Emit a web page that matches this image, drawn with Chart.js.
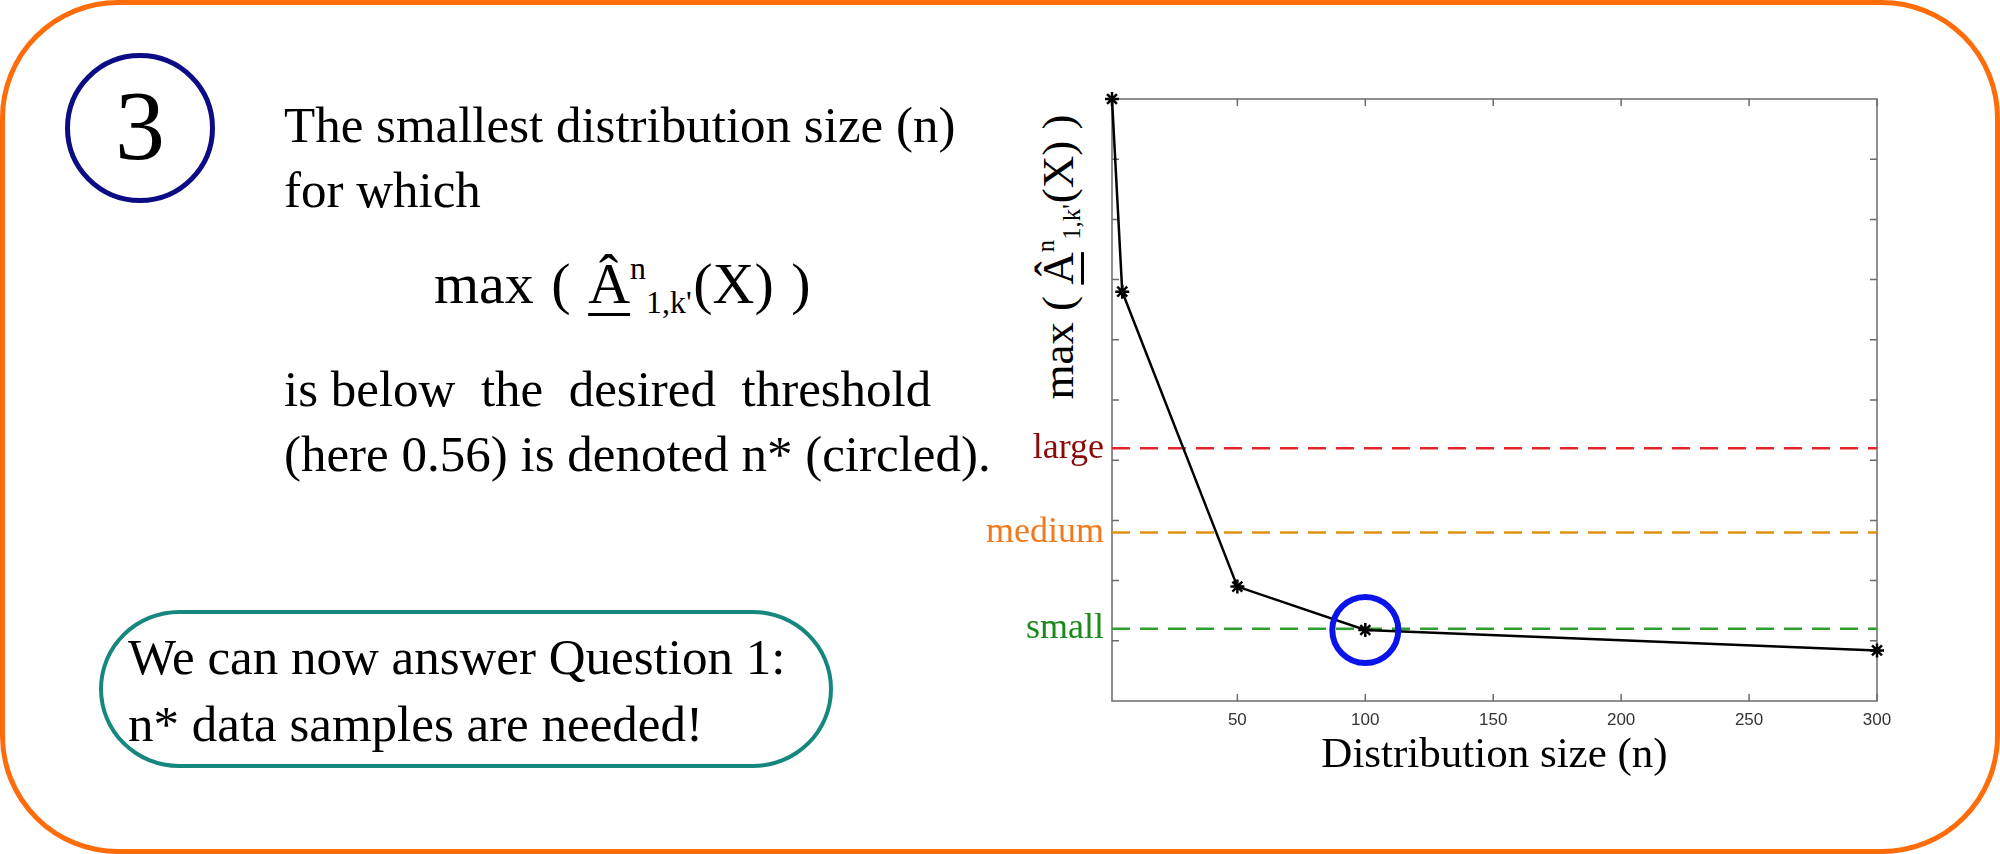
<!DOCTYPE html>
<html lang="en">

<head>
    <meta charset="UTF-8">
    <title>Distribution size</title>
    <script src="https://cdn.jsdelivr.net/npm/chart.js@4.4.3/dist/chart.umd.min.js"></script>
    <style>
        html, body {
            margin: 0;
            padding: 0;
            width: 2000px;
            height: 854px;
            background: #ffffff;
            overflow: hidden;
            font-family: "Liberation Serif", "DejaVu Serif", serif;
            color: #000000;
        }

        .frame {
            position: absolute;
            left: 0;
            top: 0;
            width: 2000px;
            height: 854px;
            box-sizing: border-box;
            border: 5px solid #ff6c0a;
            border-radius: 118px;
        }

        .step {
            position: absolute;
            left: 65px;
            top: 53px;
            width: 150px;
            height: 150px;
            box-sizing: border-box;
            border: 5px solid #0c0c84;
            border-radius: 50%;
        }

        .step-num {
            position: absolute;
            left: 65px;
            top: 76px;
            width: 150px;
            text-align: center;
            font-size: 100px;
            line-height: 1;
        }

        .para {
            position: absolute;
            left: 284px;
            font-size: 51px;
            line-height: 65px;
            white-space: nowrap;
        }

        .formula {
            position: absolute;
            left: 434px;
            top: 253px;
            font-size: 58px;
            line-height: 1;
            white-space: nowrap;
            word-spacing: 3px;
        }

        .hat {
            text-decoration: underline;
            text-decoration-thickness: 0.06em;
            text-underline-offset: 0.17em;
        }

        .sup {
            font-size: 0.55em;
            vertical-align: 0.75em;
        }

        .sub {
            font-size: 0.55em;
            vertical-align: -0.31em;
            margin-right: 0.05em;
        }

        .answer {
            position: absolute;
            left: 99px;
            top: 610px;
            width: 734px;
            height: 158px;
            box-sizing: border-box;
            border: 4px solid #16877e;
            border-radius: 80px / 79px;
        }

        .answer-text {
            position: absolute;
            left: 128px;
            top: 624px;
            font-size: 51px;
            line-height: 67px;
            white-space: nowrap;
        }

        .ylabel {
            position: absolute;
            left: 846px;
            top: 227px;
            width: 400px;
            height: 60px;
            line-height: 60px;
            text-align: center;
            font-size: 45px;
            white-space: nowrap;
            transform: rotate(-90deg);
        }

        .chart-box {
            position: absolute;
            left: 960px;
            top: 60px;
            width: 1000px;
            height: 740px;
        }
    </style>
</head>

<body>
    <div class="frame"></div>
    <div class="step"></div>
    <div class="step-num">3</div>

    <div class="para" style="top: 93px;">The smallest distribution size (n)<br>for which</div>
    <div class="formula">max ( <span class="hat">Â</span><span class="sup">n</span><span class="sub">1,k'</span>(X) )</div>
    <div class="para" style="top: 357px;">is below&nbsp; the&nbsp; desired&nbsp; threshold<br>(here 0.56) is denoted n* (circled).</div>

    <div class="answer"></div>
    <div class="answer-text">We can now answer Question 1:<br>n* data samples are needed!</div>

    <div class="ylabel">max ( <span class="hat">Â</span><span class="sup">n</span><span class="sub">1,k'</span>(X) )</div>

    <div class="chart-box">
        <canvas id="mychart"></canvas>
    </div>

    <script>
        // values
        const sizes = [1, 5, 50, 100, 300];
        const maxA = [1.0, 0.84, 0.595, 0.559, 0.542];
        const nStar = 100;

        const thresholdNames = ['large', 'medium', 'small'];
        const thresholds = [0.71, 0.64, 0.56];
        const lineColors = ['#e3262a', '#e0920f', '#2ea02e'];
        const labelColors = ['#8a0a0a', '#f07a1e', '#1a8a1a'];

        const xTicks = [50, 100, 150, 200, 250, 300];
        const yMarks = [0.55, 0.6, 0.65, 0.7, 0.75, 0.8, 0.85, 0.9, 0.95];
        const xRange = [1, 300];
        const yRange = [0.5, 1.0];

        const axisColor = '#6b6b6b';

        // matlab style box with inward tick marks
        const boxTicks = {
            id: 'boxTicks',
            beforeDatasetsDraw(chart) {
                const { ctx, chartArea: a, scales: { x, y } } = chart;
                ctx.save();
                ctx.strokeStyle = axisColor;
                ctx.lineWidth = 1.5;
                ctx.strokeRect(a.left, a.top, a.right - a.left, a.bottom - a.top);
                ctx.beginPath();
                xTicks.forEach(v => {
                    const px = x.getPixelForValue(v);
                    ctx.moveTo(px, a.bottom);
                    ctx.lineTo(px, a.bottom - 7);
                    ctx.moveTo(px, a.top);
                    ctx.lineTo(px, a.top + 7);
                });
                yMarks.forEach(v => {
                    const py = y.getPixelForValue(v);
                    ctx.moveTo(a.left, py);
                    ctx.lineTo(a.left + 7, py);
                    ctx.moveTo(a.right, py);
                    ctx.lineTo(a.right - 7, py);
                });
                ctx.stroke();
                ctx.restore();
            }
        };

        const thresholdSets = thresholds.map((t, i) => ({
            label: thresholdNames[i],
            data: [{ x: xRange[0], y: t }, { x: xRange[1], y: t }],
            borderColor: lineColors[i],
            borderWidth: 2.5,
            borderDash: [18, 10],
            pointRadius: 0,
            fill: false
        }));

        var data = {
            datasets: [
                {
                    label: 'n*',
                    data: [{ x: nStar, y: maxA[sizes.indexOf(nStar)] }],
                    showLine: false,
                    pointStyle: 'circle',
                    pointRadius: 33,
                    pointBorderWidth: 6,
                    pointBorderColor: '#0a14ea',
                    pointBackgroundColor: 'rgba(0,0,0,0)',
                    clip: false
                },
                {
                    label: 'max A',
                    data: sizes.map((n, i) => ({ x: n, y: maxA[i] })),
                    borderColor: '#000000',
                    borderWidth: 2.5,
                    pointStyle: 'star',
                    pointRadius: 7,
                    pointBorderWidth: 2.5,
                    pointBorderColor: '#000000',
                    pointBackgroundColor: '#000000',
                    lineTension: 0,
                    fill: false,
                    clip: false
                },
                ...thresholdSets
            ]
        };

        var config = {
            type: 'line',
            data: data,
            plugins: [boxTicks],
            options: {
                responsive: true,
                maintainAspectRatio: false,
                animation: false,
                layout: {
                    padding: { top: 37, right: 83, left: 0, bottom: 0 }
                },
                scales: {
                    x: {
                        type: 'linear',
                        min: xRange[0],
                        max: xRange[1],
                        afterBuildTicks: scale => {
                            scale.ticks = xTicks.map(v => ({ value: v }));
                        },
                        afterFit: scale => {
                            scale.height = 99;
                        },
                        grid: { display: false, drawTicks: false },
                        border: { display: false },
                        ticks: {
                            padding: 9,
                            color: '#333333',
                            font: { family: 'Liberation Sans', size: 17 }
                        },
                        title: {
                            display: true,
                            text: 'Distribution size (n)',
                            color: '#000000',
                            font: { family: 'Liberation Serif', size: 43 },
                            padding: { top: 0, bottom: 18 }
                        }
                    },
                    y: {
                        type: 'linear',
                        min: yRange[0],
                        max: yRange[1],
                        afterBuildTicks: scale => {
                            scale.ticks = thresholds.map(v => ({ value: v }));
                        },
                        afterFit: scale => {
                            scale.width = 152;
                        },
                        grid: { display: false, drawTicks: false },
                        border: { display: false },
                        ticks: {
                            padding: 8,
                            callback: value => thresholdNames[thresholds.indexOf(value)],
                            color: ctx => labelColors[thresholds.indexOf(ctx.tick.value)],
                            font: { family: 'Liberation Serif', size: 36 }
                        }
                    }
                },
                plugins: {
                    legend: { display: false },
                    tooltip: { enabled: false }
                }
            }
        };

        var mychart = new Chart(
            document.getElementById('mychart'),
            config
        );
    </script>
</body>

</html>
